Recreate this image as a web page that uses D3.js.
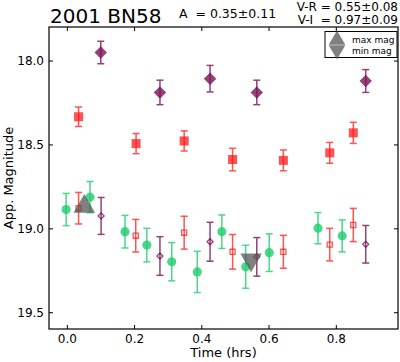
<!DOCTYPE html>
<html><head><meta charset="utf-8">
<script src="https://cdn.jsdelivr.net/npm/d3@7"></script>
<style>body{margin:0;background:#fff}svg{display:block;font-family:"DejaVu Sans",sans-serif}</style>
</head><body><svg id="c" width="400" height="362"></svg>
<script>
// ---- data ----
const xTicks = [0.0, 0.2, 0.4, 0.6, 0.8];
const yTicks = [18.0, 18.5, 19.0, 19.5];
// upper group: filled markers
const purpleBigT = [0.101, 0.277, 0.426, 0.565, 0.889];
const purpleBigM = [17.952, 18.19, 18.108, 18.19, 18.122];
const purpleBigE = [0.067, 0.073, 0.079, 0.073, 0.068];
const redBigT = [0.035, 0.206, 0.349, 0.493, 0.644, 0.782, 0.852];
const redBigM = [18.335, 18.495, 18.479, 18.59, 18.595, 18.55, 18.431];
const redBigE = [0.058, 0.06, 0.06, 0.067, 0.062, 0.062, 0.063];
// lower group
const greenT = [-0.002, 0.069, 0.173, 0.238, 0.312, 0.388, 0.461, 0.532, 0.602, 0.747, 0.819];
const greenM = [18.888, 18.814, 19.02, 19.10, 19.199, 19.26, 19.02, 19.229, 19.145, 18.999, 19.045];
const greenE = [0.096, 0.093, 0.097, 0.10, 0.114, 0.123, 0.10, 0.128, 0.112, 0.093, 0.095];
const redOpenT = [0.035, 0.205, 0.349, 0.493, 0.644, 0.782, 0.852];
const redOpenM = [18.88, 19.044, 19.026, 19.14, 19.14, 19.097, 18.98];
const redOpenE = [0.094, 0.097, 0.098, 0.103, 0.098, 0.097, 0.099];
const purpleOpenT = [0.102, 0.277, 0.426, 0.565, 0.889];
const purpleOpenM = [18.926, 19.165, 19.08, 19.17, 19.095];
const purpleOpenE = [0.11, 0.115, 0.116, 0.115, 0.112];
const maxMag = {t: 0.052, m: 18.858};
const minMag = {t: 0.548, m: 19.199};

const svg = d3.select("#c");
const L = 49, R = 398, T = 27, B = 329;
const x = d3.scaleLinear().domain([-0.053, 0.985]).range([L, R]);
const y = d3.scaleLinear().domain([17.8, 19.6]).range([T, B]);

const zip = (t, m, e) => t.map((v, i) => ({t: v, m: m[i], e: e[i]}));

function errbars(data, color, op) {
  const g = svg.append("g").attr("stroke", color).attr("stroke-width", 1.5).attr("opacity", op).attr("fill", "none");
  data.forEach(d => {
    const cx = x(d.t), y1 = y(d.m - d.e), y2 = y(d.m + d.e);
    g.append("line").attr("x1", cx).attr("x2", cx).attr("y1", y1).attr("y2", y2);
    g.append("line").attr("x1", cx - 3.5).attr("x2", cx + 3.5).attr("y1", y1).attr("y2", y1);
    g.append("line").attr("x1", cx - 3.5).attr("x2", cx + 3.5).attr("y1", y2).attr("y2", y2);
  });
}
function markers(data, type, size, fill, stroke, op, rot) {
  svg.append("g").selectAll("path").data(data).join("path")
    .attr("d", d3.symbol().type(type).size(size))
    .attr("transform", d => `translate(${x(d.t)},${y(d.m)}) rotate(${rot || 0})`)
    .attr("fill", fill).attr("stroke", stroke).attr("stroke-width", 1.3).attr("opacity", op);
}

const purple = "#7a1257", red = "#ff1a1a", green = "#1fcc6e";

// frame
svg.append("rect").attr("x", L).attr("y", T).attr("width", R - L).attr("height", B - T)
  .attr("fill", "none").attr("stroke", "#000").attr("stroke-width", 1.2);

// axes
const ax = svg.append("g").attr("font-size", 12).attr("font-family", "DejaVu Sans");
ax.append("g").attr("transform", `translate(0,${B})`)
  .call(d3.axisBottom(x).tickValues(xTicks).tickFormat(d3.format(".1f")).tickSize(-4).tickPadding(5));
ax.append("g").attr("transform", `translate(0,${T})`)
  .call(d3.axisTop(x).tickValues(xTicks).tickFormat("").tickSize(-4));
ax.append("g").attr("transform", `translate(${L},0)`)
  .call(d3.axisLeft(y).tickValues(yTicks).tickFormat(d3.format(".1f")).tickSize(-4).tickPadding(5));
ax.append("g").attr("transform", `translate(${R},0)`)
  .call(d3.axisRight(y).tickValues(yTicks).tickFormat("").tickSize(-4));
ax.selectAll(".domain").remove();
ax.selectAll("text").attr("fill", "#000").attr("font-size", 12).attr("font-family", "DejaVu Sans");

// series
const pb = zip(purpleBigT, purpleBigM, purpleBigE);
const rb = zip(redBigT, redBigM, redBigE);
const gr = zip(greenT, greenM, greenE);
const ro = zip(redOpenT, redOpenM, redOpenE);
const po = zip(purpleOpenT, purpleOpenM, purpleOpenE);

errbars(gr, green, 0.8);
markers(gr, d3.symbolCircle, 66, green, "none", 0.8);
errbars(ro, red, 0.75);
markers(ro, d3.symbolSquare, 26, "none", red, 0.75);
errbars(po, purple, 0.8);
markers(po, d3.symbolSquare, 18, "none", purple, 0.8, 45);
errbars(rb, red, 0.75);
markers(rb, d3.symbolSquare, 82, red, "none", 0.75);
errbars(pb, purple, 0.8);
markers(pb, d3.symbolSquare, 78, purple, "none", 0.8, 45);

// min / max mag triangles
svg.append("path").attr("d", d3.symbol().type(d3.symbolTriangle).size(200))
  .attr("transform", `translate(${x(maxMag.t)},${y(maxMag.m) + 2})`).attr("fill", "#555").attr("opacity", 0.75);
svg.append("path").attr("d", d3.symbol().type(d3.symbolTriangle).size(200))
  .attr("transform", `translate(${x(minMag.t)},${y(minMag.m) - 2}) rotate(180)`).attr("fill", "#555").attr("opacity", 0.75);

// legend
const lg = svg.append("g");
lg.append("rect").attr("x", 325).attr("y", 31.5).attr("width", 72).attr("height", 26)
  .attr("fill", "#fff").attr("stroke", "#000").attr("stroke-width", 1);
lg.append("path").attr("d", d3.symbol().type(d3.symbolTriangle).size(120))
  .attr("transform", "translate(337,40)").attr("fill", "#555").attr("opacity", 0.75);
lg.append("path").attr("d", d3.symbol().type(d3.symbolTriangle).size(120))
  .attr("transform", "translate(337,50) rotate(180)").attr("fill", "#555").attr("opacity", 0.75);
lg.append("text").attr("x", 352).attr("y", 43).attr("font-size", 9).text("max mag");
lg.append("text").attr("x", 352).attr("y", 54).attr("font-size", 9).text("min mag");

// titles
svg.append("text").attr("x", 50).attr("y", 23).attr("font-size", 20).text("2001 BN58");
svg.append("text").attr("x", 179).attr("y", 17.5).attr("font-size", 12.5).attr("xml:space", "preserve").text("A  = 0.35±0.11");
svg.append("text").attr("x", 398).attr("y", 11).attr("font-size", 12).attr("text-anchor", "end").text("V-R = 0.55±0.08");
svg.append("text").attr("x", 398).attr("y", 23.5).attr("font-size", 12).attr("text-anchor", "end").attr("xml:space", "preserve").text("V-I  = 0.97±0.09");

svg.append("text").attr("x", (L + R) / 2).attr("y", 357).attr("text-anchor", "middle").attr("font-size", 13).text("Time (hrs)");
svg.append("text").attr("transform", `translate(13,${(T + B) / 2}) rotate(-90)`).attr("text-anchor", "middle").attr("font-size", 13).text("App. Magnitude");
</script></body></html>
